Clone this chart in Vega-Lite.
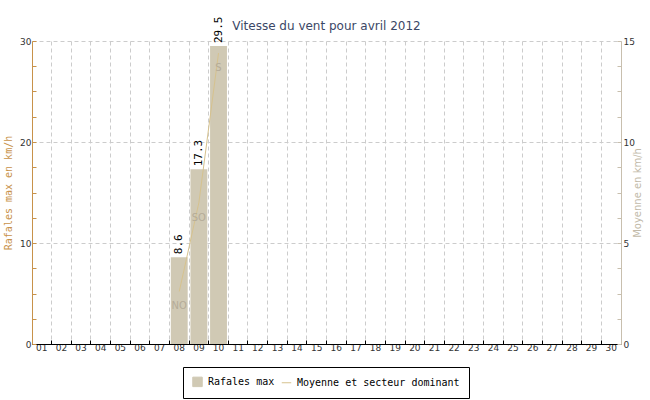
{
  "$schema": "https://vega.github.io/schema/vega-lite/v6.json",
  "width": 589,
  "height": 303,
  "autosize": {"type": "none"},
  "padding": {"left": 32, "top": 41, "right": 29, "bottom": 56},
  "background": "white",
  "title": {"text": "Vitesse du vent pour avril 2012", "font": "DejaVu Sans", "fontSize": 12, "fontWeight": "normal", "color": "#3b4766", "offset": 9, "dy": 25, "anchor": "middle"},
  "config": {"view": {"stroke": null}, "font": "DejaVu Sans"},
  "data": {"values": [
    {"jour": "08", "rafales": 8.6, "moyenne": 2.6, "secteur": "NO"},
    {"jour": "09", "rafales": 17.3, "moyenne": 7.0, "secteur": "SO"},
    {"jour": "10", "rafales": 29.5, "moyenne": 14.4, "secteur": "S"}
  ]},
  "encoding": {
    "x": {
      "field": "jour", "type": "ordinal",
      "scale": {"domain": ["01","02","03","04","05","06","07","08","09","10","11","12","13","14","15","16","17","18","19","20","21","22","23","24","25","26","27","28","29","30"], "paddingInner": 0, "paddingOuter": 0},
      "axis": {"title": null, "labelAngle": 0, "labelFontSize": 9, "labelColor": "#333", "labelPadding": 3, "domainColor": "black", "tickColor": "black", "tickSize": -4, "bandPosition": 0, "grid": true, "gridColor": "#cccccc", "gridDash": [4, 3]}
    }
  },
  "layer": [
    {
      "encoding": {
        "y": {
          "field": "rafales", "type": "quantitative",
          "scale": {"domain": [0, 30], "nice": false},
          "axis": {
            "title": "Rafales max en km/h", "titleColor": "#c8924a", "titleFont": "DejaVu Sans Mono", "titleFontSize": 10, "titleFontWeight": "normal", "titlePadding": 6,
            "domainColor": "#c8924a", "tickColor": "#c8924a", "tickSize": -4,
            "values": [0, 2.5, 5, 7.5, 10, 12.5, 15, 17.5, 20, 22.5, 25, 27.5, 30],
            "labelExpr": "datum.value % 10 === 0 ? datum.label : ''",
            "labelColor": "#333", "labelFontSize": 9, "labelPadding": 5,
            "grid": true, "gridColor": "#cccccc", "gridDash": [4, 3],
            "gridOpacity": {"condition": {"test": "datum.value % 10 === 0 && datum.value > 0", "value": 1}, "value": 0}
          }
        }
      },
      "layer": [
        {
          "mark": {"type": "bar", "width": {"band": 0.86}},
          "encoding": {
            "color": {"datum": "Rafales max", "type": "nominal",
              "scale": {"domain": ["Rafales max", "Moyenne et secteur dominant"], "range": ["#d0c9b4", "#d6c28e"]},
              "legend": {
                "title": null, "orient": "none", "legendX": 151, "legendY": 326, "direction": "horizontal",
                "strokeColor": "black", "fillColor": "white", "padding": 9,
                "labelFont": "DejaVu Sans Mono", "labelFontSize": 10, "labelColor": "black", "labelOffset": 5, "labelLimit": 400,
                "symbolSize": 90, "columnPadding": 4,
                "encode": {"symbols": {"update": {
                  "shape": {"signal": "datum.value === 'Rafales max' ? 'square' : 'stroke'"},
                  "fill": {"signal": "datum.value === 'Rafales max' ? '#d6ccb9' : 'transparent'"},
                  "stroke": {"signal": "datum.value === 'Rafales max' ? '#333333' : '#ece3cf'"},
                  "strokeWidth": {"value": 1},
                  "opacity": {"value": 1}
                }}}
              }
            }
          }
        },
        {
          "mark": {"type": "text", "angle": 270, "align": "left", "baseline": "middle", "dx": 3, "font": "DejaVu Sans Mono", "fontSize": 11, "color": "black"},
          "encoding": {"text": {"field": "rafales", "type": "quantitative", "format": ".1f"}}
        }
      ]
    },
    {
      "encoding": {
        "y": {
          "field": "moyenne", "type": "quantitative",
          "scale": {"domain": [0, 15], "nice": false},
          "axis": {
            "orient": "right",
            "title": "Moyenne en km/h", "titleColor": "#c2baa9", "titleFont": "DejaVu Sans", "titleFontSize": 10, "titleFontWeight": "normal", "titleAngle": 270, "titlePadding": 8,
            "domainColor": "#c8bfae", "tickColor": "#c8bfae", "tickSize": -4,
            "values": [0, 1.25, 2.5, 3.75, 5, 6.25, 7.5, 8.75, 10, 11.25, 12.5, 13.75, 15],
            "labelExpr": "datum.value % 5 === 0 ? datum.label : ''",
            "labelColor": "#333", "labelFontSize": 9, "labelPadding": 6,
            "grid": false
          }
        }
      },
      "layer": [
        {
          "mark": {"type": "line", "strokeWidth": 1},
          "encoding": {"color": {"datum": "Moyenne et secteur dominant", "type": "nominal"}}
        },
        {
          "mark": {"type": "text", "align": "center", "baseline": "middle", "dy": 15, "font": "DejaVu Sans", "fontSize": 10, "color": "#b5ac98"},
          "encoding": {"text": {"field": "secteur", "type": "nominal"}}
        }
      ]
    }
  ],
  "resolve": {"scale": {"y": "independent"}, "axis": {"y": "independent"}}
}
